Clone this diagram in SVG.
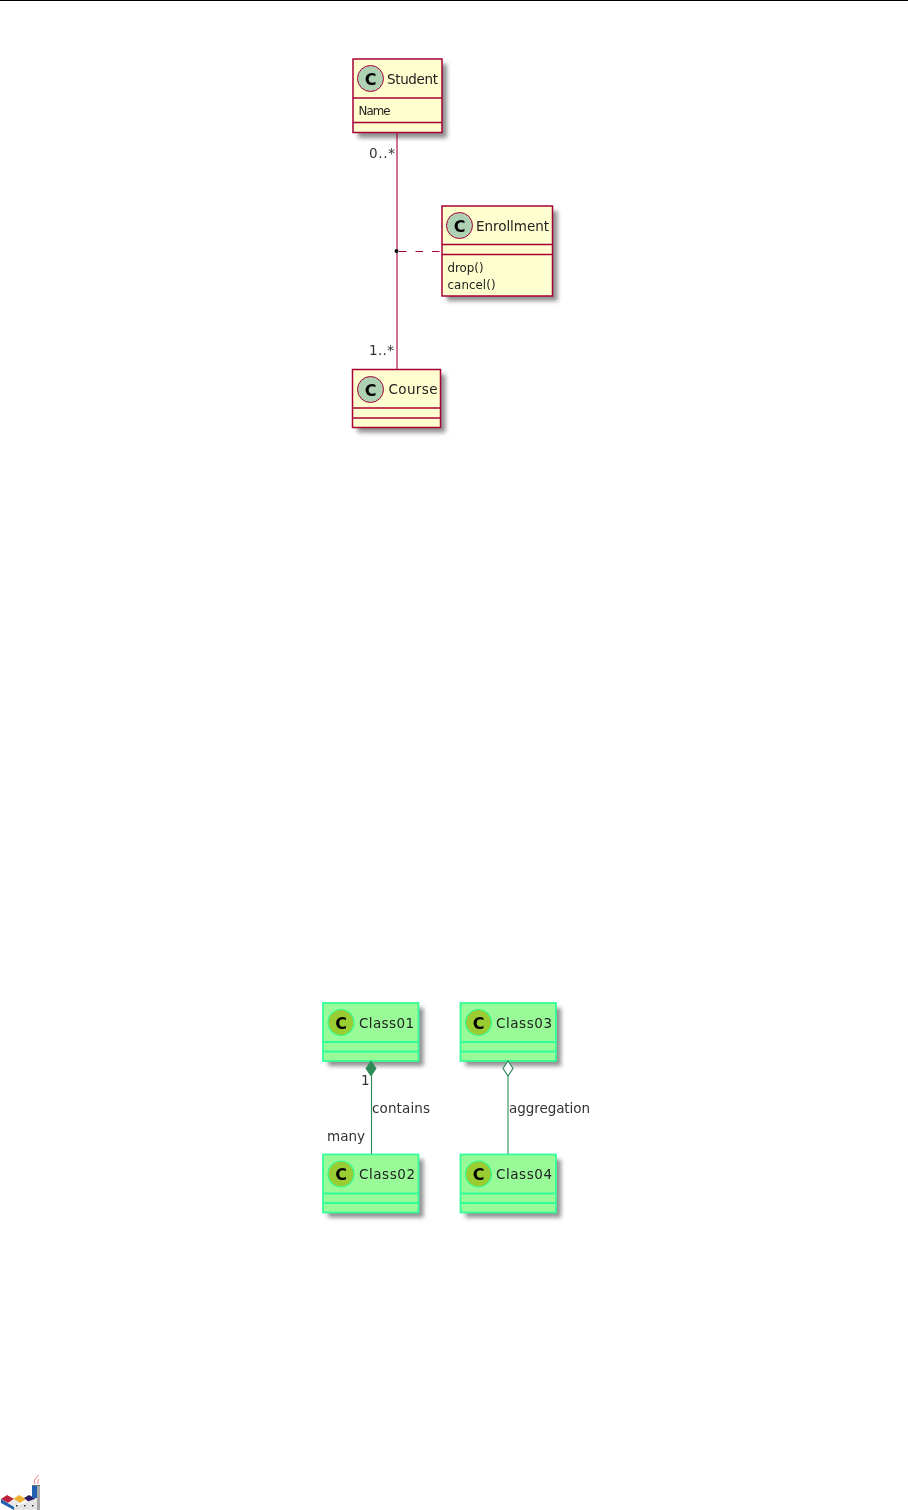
<svg xmlns="http://www.w3.org/2000/svg" width="908" height="1510" viewBox="0 0 908 1510">
<style>
text{font-family:"DejaVu Sans","Liberation Sans",sans-serif;fill:#222}
.t{font-size:13.500px}
.m{font-size:11.800px}
.l{font-size:13.500px;fill:#333}
.c{font-size:16px;font-weight:bold;fill:#000;text-anchor:middle}
.r{fill:#FEFECE;stroke:#A80036;stroke-width:1.5}
.s{fill:none;stroke:#A80036;stroke-width:1.5}
.ci{fill:#ADD1B2;stroke:#A80036;stroke-width:1}
.gr{fill:#98FB98;stroke:#33FF99;stroke-width:1.8}
.gs{fill:none;stroke:#33FF99;stroke-width:1.8}
.gc{fill:#9ACD32;stroke:#33FF99;stroke-width:1.2}
.sh{fill:#909090;filter:url(#b)}
</style>
<defs>
<filter id="b" x="-20%" y="-20%" width="140%" height="140%"><feGaussianBlur stdDeviation="2"/></filter>
<filter id="soft" filterUnits="userSpaceOnUse" x="0" y="0" width="908" height="1510"><feGaussianBlur stdDeviation="0.3"/></filter>
</defs>
<rect width="908" height="1510" fill="#fff"/>
<line x1="0" y1="0.5" x2="908" y2="0.5" stroke="#000" stroke-width="1"/>
<g filter="url(#soft)">
<g id="Student">
<rect class="sh" x="358" y="64" width="89" height="74"/>
<rect class="r" x="353" y="59" width="89" height="73.500"/>
<line class="s" x1="353" y1="98" x2="442" y2="98"/>
<line class="s" x1="353" y1="122.500" x2="442" y2="122.500"/>
<circle class="ci" cx="370.500" cy="78.500" r="13"/>
<text class="c" x="370.500" y="84.500">C</text>
<text class="t" x="387" y="83.500" textLength="51">Student</text>
<text class="m" x="358.500" y="115" textLength="32">Name</text>
</g>
<g id="Enrollment">
<rect class="sh" x="447" y="211" width="110.500" height="90"/>
<rect class="r" x="442" y="206" width="110.500" height="90"/>
<line class="s" x1="442" y1="244.500" x2="552.500" y2="244.500"/>
<line class="s" x1="442" y1="254.500" x2="552.500" y2="254.500"/>
<circle class="ci" cx="459.500" cy="225.500" r="13"/>
<text class="c" x="459.500" y="231.500">C</text>
<text class="t" x="476" y="230.500" textLength="73">Enrollment</text>
<text class="m" x="447.500" y="272" textLength="36">drop()</text>
<text class="m" x="447.500" y="288.500" textLength="48">cancel()</text>
</g>
<g id="Course">
<rect class="sh" x="357.500" y="374.500" width="88" height="58"/>
<rect class="r" x="352.500" y="369.500" width="88" height="58"/>
<line class="s" x1="352.500" y1="408" x2="440.500" y2="408"/>
<line class="s" x1="352.500" y1="418" x2="440.500" y2="418"/>
<circle class="ci" cx="370.500" cy="389.500" r="13"/>
<text class="c" x="370.500" y="395.500">C</text>
<text class="t" x="388.500" y="394" textLength="49">Course</text>
</g>
<g id="Class01">
<rect class="sh" x="328" y="1008" width="95.500" height="58"/>
<rect class="gr" x="323" y="1003" width="95.500" height="58"/>
<line class="gs" x1="323" y1="1042" x2="418.500" y2="1042"/>
<line class="gs" x1="323" y1="1051.500" x2="418.500" y2="1051.500"/>
<circle class="gc" cx="341" cy="1022.500" r="13"/>
<text class="c" x="341" y="1028.500">C</text>
<text class="t" x="359" y="1027.500" textLength="55">Class01</text>
</g>
<g id="Class03">
<rect class="sh" x="465.500" y="1008" width="95.500" height="58"/>
<rect class="gr" x="460.500" y="1003" width="95.500" height="58"/>
<line class="gs" x1="460.500" y1="1042" x2="556" y2="1042"/>
<line class="gs" x1="460.500" y1="1051.500" x2="556" y2="1051.500"/>
<circle class="gc" cx="478.500" cy="1022.500" r="13"/>
<text class="c" x="478.500" y="1028.500">C</text>
<text class="t" x="496" y="1027.500" textLength="56">Class03</text>
</g>
<g id="Class02">
<rect class="sh" x="328" y="1159.500" width="95.500" height="58"/>
<rect class="gr" x="323" y="1154.500" width="95.500" height="58"/>
<line class="gs" x1="323" y1="1193.500" x2="418.500" y2="1193.500"/>
<line class="gs" x1="323" y1="1203" x2="418.500" y2="1203"/>
<circle class="gc" cx="341" cy="1174" r="13"/>
<text class="c" x="341" y="1180">C</text>
<text class="t" x="359" y="1179" textLength="56">Class02</text>
</g>
<g id="Class04">
<rect class="sh" x="465.500" y="1159.500" width="95.500" height="58"/>
<rect class="gr" x="460.500" y="1154.500" width="95.500" height="58"/>
<line class="gs" x1="460.500" y1="1193.500" x2="556" y2="1193.500"/>
<line class="gs" x1="460.500" y1="1203" x2="556" y2="1203"/>
<circle class="gc" cx="478.500" cy="1174" r="13"/>
<text class="c" x="478.500" y="1180">C</text>
<text class="t" x="496" y="1179" textLength="56">Class04</text>
</g>
<g id="connectors">
<line x1="397" y1="132" x2="397" y2="369" stroke="#A80036" stroke-width="1.100"/>
<line x1="399" y1="251.500" x2="441" y2="251.500" stroke="#A80036" stroke-width="1.200" stroke-dasharray="7.500 9"/>
<circle cx="396.500" cy="251" r="2" fill="#111"/>
<text class="l" x="369" y="158" textLength="26">0..*</text>
<text class="l" x="369" y="355" textLength="25">1..*</text>
<line x1="371.500" y1="1074" x2="371.500" y2="1154" stroke="#2E8B57" stroke-width="1.100"/>
<polygon points="371,1061 376,1068.500 371,1076 366,1068.500" fill="#2E8B57" stroke="#2E8B57"/>
<line x1="508" y1="1075" x2="508" y2="1154" stroke="#2E8B57" stroke-width="1.100"/>
<polygon points="508,1061 513,1068.500 508,1076 503,1068.500" fill="#fff" stroke="#2E8B57" stroke-width="1.200"/>
<text class="l" x="361" y="1085">1</text>
<text class="l" x="372" y="1113" textLength="58">contains</text>
<text class="l" x="509" y="1113" textLength="81">aggregation</text>
<text class="l" x="327" y="1141" textLength="38">many</text>
</g>
<g id="logo">
<polygon points="1,1499 7,1495 14,1499 8,1503" fill="#b8243a"/>
<polygon points="13,1499 19,1495 26,1499 20,1503" fill="#f0b030"/>
<polygon points="24,1498 29,1495 36,1499 30,1503" fill="#2a1f66"/>
<polygon points="8,1503 14,1499 20,1503 14,1507" fill="#e8e8e8"/>
<polygon points="1,1499 14,1507 14,1510 1,1503" fill="#2060b0"/>
<polygon points="14,1507 37,1498 37,1510 14,1510" fill="#e4e4e4"/>
<rect x="32" y="1485" width="5" height="13" fill="#2060b0"/>
<rect x="37" y="1486" width="3" height="24" fill="#a8a8a8"/>
<path d="M32 1485.500h8" stroke="#777"/>
<rect x="16" y="1505" width="1.500" height="1.500" fill="#333"/><rect x="24" y="1505" width="1.500" height="1.500" fill="#333"/><rect x="32" y="1505" width="1.500" height="1.500" fill="#333"/>
<path d="M35 1484q-2-4 1-6t2-3M38 1484q-1-3 1-5" fill="none" stroke="#e88"/>
</g>
</g>
</svg>
